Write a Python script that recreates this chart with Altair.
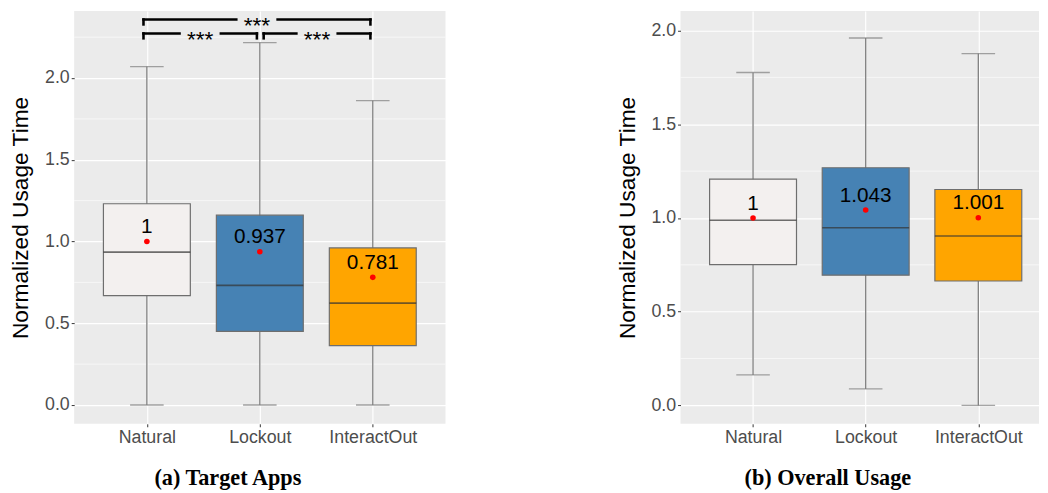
import altair as alt
import pandas as pd

# ---------------- data ----------------
categories = ["Natural", "Lockout", "InteractOut"]
fill_colors = ["#F3F0EF", "#4682B4", "#FFA500"]

# (a) Target Apps
a_low = [0.0, 0.0, 0.0]
a_q1 = [0.669, 0.451, 0.363]
a_median = [0.935, 0.732, 0.623]
a_q3 = [1.231, 1.161, 0.961]
a_high = [2.07, 2.217, 1.862]
a_mean = [1.0, 0.937, 0.781]

# (b) Overall Usage
b_low = [0.163, 0.088, 0.0]
b_q1 = [0.751, 0.695, 0.664]
b_median = [0.988, 0.948, 0.904]
b_q3 = [1.207, 1.268, 1.152]
b_high = [1.776, 1.960, 1.877]
b_mean = [1.0, 1.043, 1.001]

y_ticks = [0.0, 0.5, 1.0, 1.5, 2.0]

# significance brackets for panel (a), in category units
bracket_start = [0.97, 2.034, 0.97]
bracket_end = [1.974, 2.979, 2.979]
bracket_level = [2.273, 2.273, 2.358]
bracket_label = ["***", "***", "***"]

FONT = "Liberation Sans"
GRID_BG = "#EBEBEB"


def box_frame(low, q1, med, q3, high, mean):
    return pd.DataFrame({
        "idx": [1, 2, 3],
        "cat": categories,
        "low": low, "q1": q1, "med": med, "q3": q3, "high": high,
        "mean": mean,
        "label": [f"{m:g}" for m in mean],
    })


label_expr = "[" + ",".join(["''"] + [f"'{c}'" for c in categories]) + "][datum.value]"


def panel(df, xdom, ydom, minor, caption, width, brackets=None):
    xs = alt.X("idx:Q",
               scale=alt.Scale(domain=xdom, nice=False, zero=False),
               axis=alt.Axis(values=[1, 2, 3], labelExpr=label_expr, title=None,
                             grid=True, gridColor="white", gridWidth=1.2,
                             domain=False, tickColor="#333333", tickSize=3,
                             labelFontSize=18, labelColor="#4D4D4D", labelFont=FONT,
                             labelPadding=2))
    ysc = alt.Scale(domain=ydom, nice=False, zero=False)
    yaxis = alt.Axis(values=y_ticks, format=".1f", title="Normalized Usage Time",
                     grid=True, gridColor="white", gridWidth=1.2, domain=False,
                     tickColor="#333333", tickSize=3,
                     labelFontSize=18, labelColor="#4D4D4D", labelFont=FONT,
                     labelPadding=2, titleFont=FONT, titleFontSize=23,
                     titleFontWeight="normal", titleColor="black", titlePadding=12)

    base = alt.Chart(df)
    minor_df = pd.DataFrame({"v": minor})
    minor_layer = alt.Chart(minor_df).mark_rule(color="white", strokeWidth=0.6).encode(
        y=alt.Y("v:Q", scale=ysc, axis=yaxis))
    whisk = base.mark_rule(color="#7F7F7F", strokeWidth=1.3).encode(
        x=xs, y=alt.Y("low:Q", scale=ysc), y2="high:Q")
    cap_lo = base.mark_tick(orient="horizontal", size=34, thickness=1.3, color="#7F7F7F").encode(
        x=xs, y=alt.Y("low:Q", scale=ysc))
    cap_hi = base.mark_tick(orient="horizontal", size=34, thickness=1.3, color="#7F7F7F").encode(
        x=xs, y=alt.Y("high:Q", scale=ysc))
    box = base.mark_bar(size=88, stroke="#6E6E6E", strokeWidth=1.2).encode(
        x=xs, y=alt.Y("q1:Q", scale=ysc), y2="q3:Q",
        color=alt.Color("cat:N", scale=alt.Scale(domain=categories, range=fill_colors),
                        legend=None))
    med = base.mark_tick(orient="horizontal", size=88, thickness=1.6, color="#333333").encode(
        x=xs, y=alt.Y("med:Q", scale=ysc))
    dot = base.mark_circle(size=32, color="#FF0000", opacity=1).encode(
        x=xs, y=alt.Y("mean:Q", scale=ysc))
    txt = base.mark_text(fontSize=21, font=FONT, color="black", baseline="alphabetic",
                         dy=-8.5).encode(
        x=xs, y=alt.Y("mean:Q", scale=ysc), text="label:N")

    layers = [minor_layer, whisk, cap_lo, cap_hi, box, med, dot, txt]

    if brackets is not None:
        starts, ends, levels, labels = brackets
        drop = 0.03
        gap = 0.183
        segs = []
        stars = []
        for s, e, lv, lb in zip(starts, ends, levels, labels):
            mid = (s + e) / 2
            segs.append({"x": s, "x2": mid - gap, "y": lv, "y2": lv})
            segs.append({"x": mid + gap, "x2": e, "y": lv, "y2": lv})
            segs.append({"x": s, "x2": s, "y": lv - drop, "y2": lv})
            segs.append({"x": e, "x2": e, "y": lv - drop, "y2": lv})
            stars.append({"x": mid, "y": lv, "t": lb})
        seg_df = pd.DataFrame(segs)
        star_df = pd.DataFrame(stars)
        seg_layer = alt.Chart(seg_df).mark_rule(color="black", strokeWidth=2.6,
                                                strokeCap="square").encode(
            x=alt.X("x:Q", scale=alt.Scale(domain=xdom, nice=False, zero=False)),
            x2="x2:Q",
            y=alt.Y("y:Q", scale=ysc), y2="y2:Q")
        star_layer = alt.Chart(star_df).mark_text(fontSize=23, font=FONT, color="black",
                                                  baseline="middle", dy=6.5).encode(
            x=alt.X("x:Q", scale=alt.Scale(domain=xdom, nice=False, zero=False)),
            y=alt.Y("y:Q", scale=ysc), text="t:N")
        layers += [seg_layer, star_layer]

    return alt.layer(*layers).properties(
        width=width, height=418,
        title=alt.TitleParams(caption, orient="bottom", font="Liberation Serif",
                              fontSize=22.5, fontWeight="bold", color="black",
                              anchor="middle", frame="bounds", offset=21),
    )


left = panel(box_frame(a_low, a_q1, a_median, a_q3, a_high, a_mean),
             [0.4, 3.6], [-0.115, 2.41],
             [0.25, 0.75, 1.25, 1.75, 2.25],
             "(a) Target Apps", 376,
             brackets=(bracket_start, bracket_end, bracket_level, bracket_label))
right = panel(box_frame(b_low, b_q1, b_median, b_q3, b_high, b_mean),
              [0.4, 3.495], [-0.098, 2.104],
              [0.25, 0.75, 1.25, 1.75],
              "(b) Overall Usage", 363)

chart = alt.hconcat(left, right, spacing=171).properties(
    padding={"left": 1, "top": 0, "right": 0, "bottom": 0}
).configure_view(fill=GRID_BG, stroke=None)

chart.save("out.html", embed_options={"renderer": "svg", "actions": False})
